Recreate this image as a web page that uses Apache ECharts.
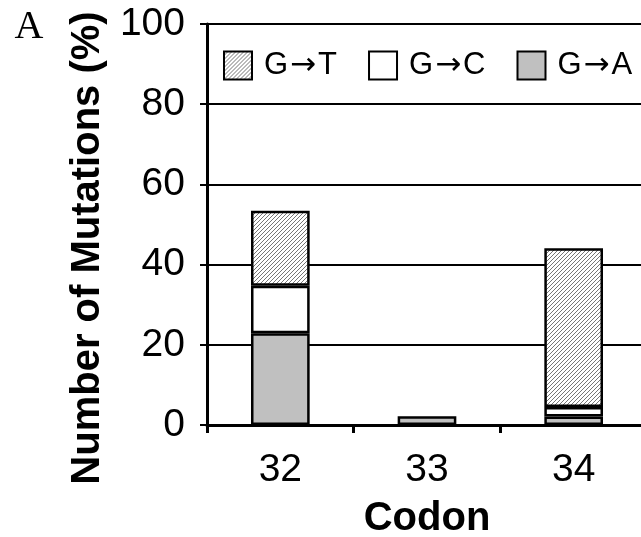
<!DOCTYPE html>
<html>
<head>
<meta charset="utf-8">
<style>html,body{margin:0;padding:0;background:#fff;overflow:hidden;}#chart{width:647px;height:537px;}</style>
<script src="https://cdn.jsdelivr.net/npm/echarts@6/dist/echarts.min.js"></script>
</head>
<body>
<div id="chart"></div>
<script>
const categories = ['32', '33', '34'];
const gToA = [22.9, 2.2, 2.1];
const gToC = [11.8, null, 2.4];
const gToT = [18.7, null, 39.6];
const yTicks = [0, 20, 40, 60, 80, 100];

const tile = document.createElement('canvas');
tile.width = 8; tile.height = 8;
const tc = tile.getContext('2d');
tc.fillStyle = '#fff'; tc.fillRect(0, 0, 8, 8);
tc.strokeStyle = '#666'; tc.lineWidth = 0.9;
for (let k = -8; k <= 8; k += 4) {
  tc.beginPath(); tc.moveTo(k, 8); tc.lineTo(k + 8, 0); tc.stroke();
}
const hatch = { image: tile, repeat: 'repeat' };

const font = "'Liberation Sans', Arial, sans-serif";
const chart = echarts.init(document.getElementById('chart'));
chart.setOption({
  animation: false,
  backgroundColor: '#fff',
  grid: { left: 207, top: 24, right: 0, bottom: 112, outerBoundsMode: 'none', containLabel: false },
  legend: {
    data: ['G→T', 'G→C', 'G→A'],
    left: 218, top: 45,
    itemWidth: 28, itemHeight: 28, itemGap: 31,
    icon: 'rect',
    formatter: function (name) { return '{g|' + name[0] + '}{a|→}{g|' + name[2] + '}'; },
    textStyle: {
      fontSize: 31, fontFamily: font, color: '#000', padding: [0, 0, 0, 7],
      rich: {
        g: { fontSize: 31, fontFamily: font, color: '#000' },
        a: { fontSize: 31, fontFamily: "'DejaVu Sans', sans-serif", color: '#000', padding: [0, 2, 0, 2] }
      }
    }
  },
  xAxis: {
    type: 'category',
    data: categories,
    name: 'Codon',
    nameLocation: 'middle',
    nameGap: 74,
    nameTextStyle: { fontSize: 40, fontWeight: 'bold', fontFamily: font, color: '#000' },
    axisLine: { lineStyle: { color: '#000', width: 3 } },
    axisTick: { show: true, length: 8, lineStyle: { color: '#000', width: 3 } },
    axisLabel: { fontSize: 39, fontFamily: font, color: '#000', margin: 26 }
  },
  yAxis: {
    type: 'value',
    min: yTicks[0], max: yTicks[yTicks.length - 1], interval: 20,
    axisLine: { show: true, lineStyle: { color: '#000', width: 3 } },
    axisTick: { show: true, length: 7, lineStyle: { color: '#000', width: 2 } },
    splitLine: { lineStyle: { color: '#000', width: 2 } },
    axisLabel: { fontSize: 39, fontFamily: font, color: '#000', margin: 22 }
  },
  graphic: [
    { type: 'text', x: 29, y: 27, style: { text: 'A', font: "40px 'Liberation Serif', 'Times New Roman', serif", fill: '#000', textAlign: 'center', textVerticalAlign: 'middle' } },
    { type: 'text', x: 88, y: 248, rotation: Math.PI / 2, style: { text: 'Number of Mutations (%)', font: "bold 40px 'Liberation Sans', Arial, sans-serif", fill: '#000', textAlign: 'center', textVerticalAlign: 'middle' } }
  ],
  series: [
    { name: 'G→A', type: 'bar', stack: 'm', data: gToA, barWidth: '40%', itemStyle: { color: '#c0c0c0', borderColor: '#000', borderWidth: 2.5 } },
    { name: 'G→C', type: 'bar', stack: 'm', data: gToC, barWidth: '40%', itemStyle: { color: '#fff', borderColor: '#000', borderWidth: 2.5 } },
    { name: 'G→T', type: 'bar', stack: 'm', data: gToT, barWidth: '40%', itemStyle: { color: hatch, borderColor: '#000', borderWidth: 2.5 } }
  ]
});
</script>
</body>
</html>
